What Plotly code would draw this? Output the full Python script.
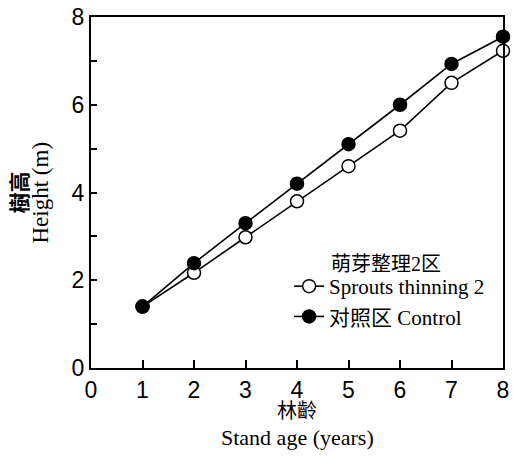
import plotly.graph_objects as go

# ---- data ----
ages = [1, 2, 3, 4, 5, 6, 7, 8]
sprouts_height = [1.4, 2.17, 2.98, 3.8, 4.6, 5.41, 6.5, 7.23]
control_height = [1.4, 2.39, 3.3, 4.2, 5.1, 6.0, 6.93, 7.55]
x_tick_vals = [0, 1, 2, 3, 4, 5, 6, 7, 8]
x_tick_text = ["0", "1", "2", "3", "4", "5", "6", "7", "8"]
y_tick_vals = [0, 1, 2, 3, 4, 5, 6, 7, 8]
y_tick_text = ["0", "", "2", "", "4", "", "6", "", "8"]
sprouts_name = "Sprouts thinning 2"
control_name = "对照区 Control"
legend_header = "萌芽整理2区"

SERIF = "Liberation Serif, Noto Sans CJK SC, Noto Sans CJK TC"
SANS = "Liberation Sans, Arial"

W, H = 513, 456
ML, MR, MT, MB = 91, 4, 17, 88
plot_w = W - ML - MR
plot_h = H - MT - MB

fig = go.Figure()
fig.add_trace(go.Scatter(
    x=ages, y=sprouts_height, name=sprouts_name, mode="lines+markers",
    line=dict(color="black", width=1.6),
    marker=dict(symbol="circle", size=13, color="white",
                line=dict(color="black", width=1.5)),
    cliponaxis=False,
))
fig.add_trace(go.Scatter(
    x=ages, y=control_height, name=control_name, mode="lines+markers",
    line=dict(color="black", width=1.6),
    marker=dict(symbol="circle", size=13, color="black",
                line=dict(color="black", width=1.5)),
    cliponaxis=False,
))

def px_x(p):
    return (p - ML) / plot_w

def px_y(p):
    return (H - MB - p) / plot_h

fig.update_layout(
    width=W, height=H, autosize=False,
    margin=dict(l=ML, r=MR, t=MT, b=MB),
    paper_bgcolor="white", plot_bgcolor="white",
    showlegend=True,
    legend=dict(
        x=px_x(292), y=px_y(266), xanchor="left", yanchor="top",
        font=dict(family=SERIF, size=21, color="black"),
        bgcolor="rgba(0,0,0,0)", borderwidth=0,
    ),
    xaxis=dict(
        range=[0, 8], tickmode="array", tickvals=x_tick_vals, ticktext=x_tick_text,
        ticks="inside", ticklen=8, tickwidth=1.5, tickcolor="black",
        showline=True, linecolor="black", linewidth=2, mirror=True,
        showgrid=False, zeroline=False,
        tickfont=dict(family=SANS, size=23, color="black"),
        ticklabeloverflow="allow",
    ),
    yaxis=dict(
        range=[0, 8], tickmode="array", tickvals=y_tick_vals, ticktext=y_tick_text,
        ticks="inside", ticklen=6, tickwidth=1.5, tickcolor="black",
        showline=True, linecolor="black", linewidth=2, mirror=True,
        showgrid=False, zeroline=False,
        tickfont=dict(family=SANS, size=23, color="black"),
        ticklabeloverflow="allow",
    ),
    annotations=[
        dict(text="<b>樹高</b>", xref="paper", yref="paper", x=0, y=0.5,
             xshift=-72, xanchor="center", yanchor="middle", textangle=-90,
             showarrow=False, font=dict(family=SERIF, size=21, color="black")),
        dict(text="Height (m)", xref="paper", yref="paper", x=0, y=0.5,
             xshift=-51, xanchor="center", yanchor="middle", textangle=-90,
             showarrow=False, font=dict(family=SERIF, size=23, color="black")),
        dict(text="林齡", xref="paper", yref="paper", x=0.5, y=0,
             yshift=-43, xanchor="center", yanchor="middle",
             showarrow=False, font=dict(family=SERIF, size=20, color="black")),
        dict(text="Stand age (years)", xref="paper", yref="paper", x=0.5, y=0,
             yshift=-69, xanchor="center", yanchor="middle",
             showarrow=False, font=dict(family=SERIF, size=22, color="black")),
        dict(text=legend_header, xref="paper", yref="paper", x=px_x(332), y=px_y(264),
             xanchor="left", yanchor="middle",
             showarrow=False, font=dict(family=SERIF, size=20, color="black")),
    ],
)

fig.write_html(
    "out.html",
    config={"displayModeBar": False},
    post_script="document.body.style.margin='0';document.body.style.overflow='hidden';",
)
